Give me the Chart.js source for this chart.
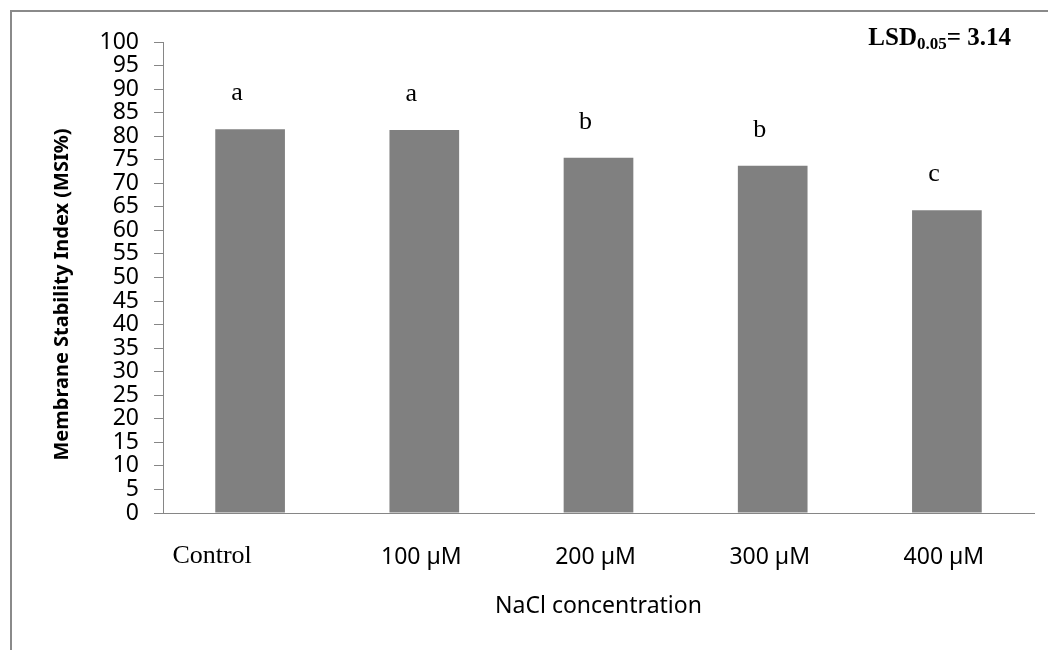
<!DOCTYPE html>
<html>
<head>
<meta charset="utf-8">
<script src="https://cdn.jsdelivr.net/npm/chart.js@4.4.1/dist/chart.umd.min.js"></script>
<style>
  html, body { margin: 0; padding: 0; background: #ffffff; }
  #wrap { position: relative; width: 1048px; height: 650px; overflow: hidden; }
  #frame { position: absolute; left: 10px; top: 10px; right: -10px; bottom: -10px;
           border-top: 2px solid #8a8a8a; border-left: 2px solid #8a8a8a; }
  canvas { position: absolute; left: 0; top: 0; }
</style>
</head>
<body>
<div id="wrap">
  <div id="frame"></div>
  <canvas id="c" width="1048" height="650"></canvas>
</div>
<script>
// ---- data ----
const categories = ['Control', '100 µM', '200 µM', '300 µM', '400 µM'];
const msiValues = [81.5, 81.3, 75.4, 73.7, 64.3];
const groupLetters = ['a', 'a', 'b', 'b', 'c'];
const yMin = 0;
const yMax = 100;
const yStep = 5;
const yAxisTitle = 'Membrane Stability Index (MSI%)';
const xAxisTitle = 'NaCl concentration';
const lsdParts = ['LSD', '0.05', '= 3.14'];

const axisGray = '#868686';

const annotations = {
  id: 'annotations',
  afterDatasetsDraw(chart) {
    const ctx = chart.ctx;
    const area = chart.chartArea;
    const meta = chart.getDatasetMeta(0);
    const xs = chart.scales.x;
    ctx.save();
    // significance letters
    ctx.fillStyle = '#000';
    ctx.textAlign = 'center';
    ctx.textBaseline = 'alphabetic';
    ctx.font = '26px "Liberation Serif", "DejaVu Serif", serif';
    meta.data.forEach((bar, i) => {
      ctx.fillText(groupLetters[i], bar.x - 13, bar.y - 29);
    });
    // category labels
    categories.forEach((lab, i) => {
      const x = xs.getPixelForValue(i);
      if (i === 0) {
        ctx.font = '26px "Liberation Serif", "DejaVu Serif", serif';
        ctx.fillText(lab, x - 38, area.bottom + 50);
      } else {
        ctx.font = '23px "Noto Sans", "DejaVu Sans", sans-serif';
        ctx.fillText(lab, x - 3, area.bottom + 51);
      }
    });
    // y axis title
    ctx.save();
    ctx.translate(62, (area.top + area.bottom) / 2 + 17);
    ctx.rotate(-Math.PI / 2);
    ctx.font = 'bold 20px "Noto Sans", "DejaVu Sans", sans-serif';
    ctx.textBaseline = 'middle';
    ctx.fillText(yAxisTitle, 0, 0);
    ctx.restore();
    // LSD label
    ctx.textAlign = 'left';
    const big = 'bold 25px "Liberation Serif", "DejaVu Serif", serif';
    const small = 'bold 17px "Liberation Serif", "DejaVu Serif", serif';
    ctx.font = big; const w1 = ctx.measureText(lsdParts[0]).width;
    const w3 = ctx.measureText(lsdParts[2]).width;
    ctx.font = small; const w2 = ctx.measureText(lsdParts[1]).width;
    let x0 = area.right - 23 - (w1 + w2 + w3);
    const base = area.top + 3;
    ctx.font = big; ctx.fillText(lsdParts[0], x0, base);
    ctx.font = small; ctx.fillText(lsdParts[1], x0 + w1, base + 4);
    ctx.font = big; ctx.fillText(lsdParts[2], x0 + w1 + w2, base);
    ctx.restore();
  }
};

new Chart(document.getElementById('c'), {
  type: 'bar',
  data: {
    labels: categories,
    datasets: [{
      data: msiValues,
      backgroundColor: '#808080',
      borderWidth: 0,
      barPercentage: 0.4,
      categoryPercentage: 1.0
    }]
  },
  options: {
    responsive: false,
    animation: false,
    devicePixelRatio: 1,
    layout: { padding: { top: 42, right: 14, left: 0, bottom: 0 } },
    plugins: { legend: { display: false }, tooltip: { enabled: false } },
    scales: {
      x: {
        grid: { display: false },
        border: { display: true, color: axisGray, width: 1 },
        ticks: { display: false },
        title: {
          display: true,
          text: xAxisTitle,
          color: '#000',
          font: { family: '"Noto Sans", "DejaVu Sans", sans-serif', size: 23 },
          padding: { top: 0, bottom: 30 }
        },
        afterFit(scale) { scale.height = 137; }
      },
      y: {
        min: yMin,
        max: yMax,
        grid: { drawOnChartArea: false, drawTicks: true, tickLength: 9, color: axisGray, lineWidth: 1 },
        border: { display: true, color: axisGray, width: 1 },
        ticks: {
          stepSize: yStep,
          autoSkip: false,
          padding: 15,
          color: '#000',
          font: { family: '"Noto Sans", "DejaVu Sans", sans-serif', size: 23 }
        },
        afterFit(scale) { scale.width = 163; }
      }
    }
  },
  plugins: [annotations]
});
</script>
</body>
</html>
